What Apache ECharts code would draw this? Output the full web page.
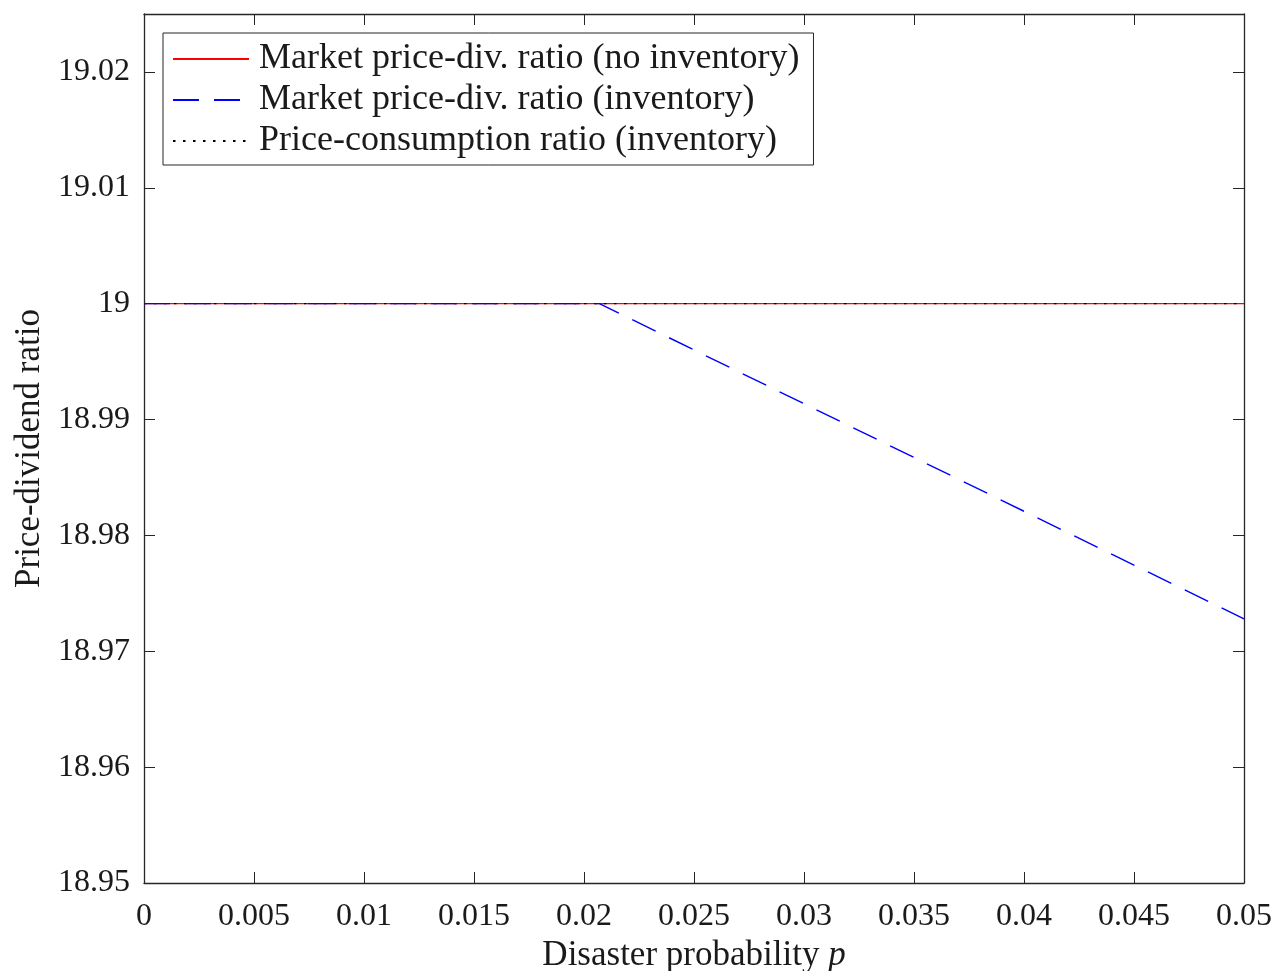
<!DOCTYPE html>
<html>
<head>
<meta charset="utf-8">
<script src="https://cdn.jsdelivr.net/npm/echarts@6/dist/echarts.min.js"></script>
<style>
  html, body { margin: 0; padding: 0; background: #fff; }
  #chart { width: 1278px; height: 971px; }
</style>
</head>
<body>
<div id="chart"></div>
<script>
// Disaster probability grid points (x) and price ratios at each point
const pNoInventory = [0, 0.05];
const pdNoInventory = [19, 19];

const pInventory = [0, 0.0207, 0.05];
const pdInventory = [19, 19, 18.9728];

const pConsumption = [0, 0.05];
const pcInventory = [19, 19];

const seriesNames = [
  'Market price-div. ratio (no inventory)',
  'Market price-div. ratio (inventory)',
  'Price-consumption ratio (inventory)'
];

const FONT = '"Liberation Serif", "DejaVu Serif", serif';
const TEXT_COLOR = '#1a1a1a';
const AXIS_COLOR = '#262626';

const pairs = (xs, ys) => xs.map((x, i) => [x, ys[i]]);
const fmt = v => String(parseFloat(v.toFixed(4)));

const chart = echarts.init(document.getElementById('chart'), null, { renderer: 'canvas' });

const baseAxis = {
  type: 'value',
  axisLine: { show: true, onZero: false, lineStyle: { color: AXIS_COLOR, width: 1.3 } },
  axisTick: { show: true, inside: true, length: 11, lineStyle: { color: AXIS_COLOR, width: 1 } },
  splitLine: { show: false }
};

chart.setOption({
  animation: false,
  backgroundColor: '#fff',
  grid: {
    left: 144, right: 34, top: 14, bottom: 88,
    containLabel: false,
    outerBoundsMode: 'none'
  },
  legend: {
    orient: 'vertical',
    left: 163, top: 33,
    data: seriesNames,
    backgroundColor: '#fff',
    borderColor: '#262626',
    borderWidth: 1,
    borderRadius: 0,
    padding: [8, 14, 6, 9],
    itemWidth: 76,
    itemHeight: 14,
    itemGap: 5,
    itemStyle: { color: 'transparent', borderWidth: 0, opacity: 0 },
    textStyle: { fontFamily: FONT, fontSize: 36, color: TEXT_COLOR, lineHeight: 36, padding: [0, 0, 0, 5] }
  },
  xAxis: [
    Object.assign({}, baseAxis, {
      min: 0, max: 0.05, interval: 0.005,
      position: 'bottom',
      name: 'Disaster probability {i|p}',
      nameLocation: 'middle',
      nameGap: 53,
      nameTextStyle: {
        fontFamily: FONT, fontSize: 35, color: TEXT_COLOR,
        rich: { i: { fontFamily: FONT, fontSize: 35, fontStyle: 'italic', color: TEXT_COLOR } }
      },
      axisLabel: {
        margin: 18, fontFamily: FONT, fontSize: 32, color: TEXT_COLOR,
        formatter: fmt, showMinLabel: true, showMaxLabel: true
      }
    }),
    Object.assign({}, baseAxis, {
      min: 0, max: 0.05, interval: 0.005,
      position: 'top',
      axisLabel: { show: false }
    })
  ],
  yAxis: [
    Object.assign({}, baseAxis, {
      min: 18.95, max: 19.025, interval: 0.01,
      position: 'left',
      name: 'Price-dividend ratio',
      nameLocation: 'middle',
      nameGap: 97,
      nameTextStyle: { fontFamily: FONT, fontSize: 35, color: TEXT_COLOR },
      axisLabel: {
        margin: 14, fontFamily: FONT, fontSize: 32, color: TEXT_COLOR,
        formatter: fmt, showMaxLabel: false
      }
    }),
    Object.assign({}, baseAxis, {
      min: 18.95, max: 19.025, interval: 0.01,
      position: 'right',
      axisLabel: { show: false }
    })
  ],
  series: [
    {
      name: seriesNames[0],
      type: 'line',
      data: pairs(pNoInventory, pdNoInventory),
      symbol: 'none',
      z: 2,
      color: '#ff0000',
      lineStyle: { color: '#ff0000', width: 1.4, type: 'solid' }
    },
    {
      name: seriesNames[2],
      type: 'line',
      data: pairs(pConsumption, pcInventory),
      symbol: 'none',
      z: 3,
      color: '#000000',
      lineStyle: { color: '#000000', width: 1.4, type: [2.5, 7.5] }
    },
    {
      name: seriesNames[1],
      type: 'line',
      data: pairs(pInventory, pdInventory),
      symbol: 'none',
      z: 4,
      color: '#0000ff',
      lineStyle: { color: '#0000ff', width: 1.4, type: [26, 15] }
    }
  ]
});
</script>
</body>
</html>
